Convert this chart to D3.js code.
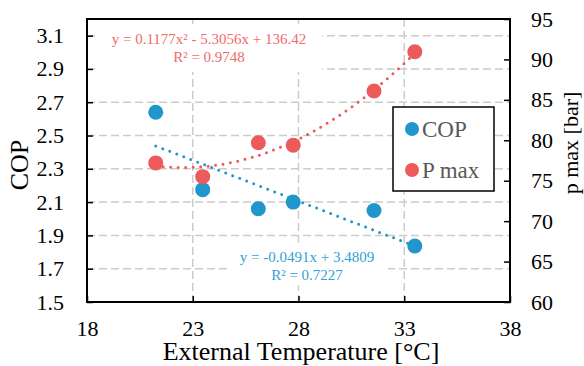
<!DOCTYPE html>
<html>
<head>
<meta charset="utf-8">
<script src="https://cdn.jsdelivr.net/npm/d3@7"></script>
<style>
  body { margin: 0; background: #fff; }
  #svg-container { width: 584px; height: 366px; }
  text { font-family: "Liberation Serif", "Times New Roman", serif; }
</style>
</head>
<body>
<div id="svg-container"></div>
<script>
//////////////  Data  //////////////
const temps = [21.25, 23.47, 26.1, 27.75, 31.57, 33.5];
const cop = [2.64, 2.175, 2.06, 2.1, 2.05, 1.836];
const pmax = [77.2, 75.5, 79.7, 79.4, 86.1, 90.95];

const xTicks = [18, 23, 28, 33, 38];
const copTicks = [1.5, 1.7, 1.9, 2.1, 2.3, 2.5, 2.7, 2.9, 3.1];
const pTicks = [60, 65, 70, 75, 80, 85, 90, 95];

// trendline coefficients as printed on the chart
const copFit = [3.4809, -0.0491]; // a + b x
const pFit = [136.42, -5.3056, 0.1177]; // a + b x + c x^2
const copLabel = ["y = -0.0491x + 3.4809", "R² = 0.7227"];
const pLabel = ["y = 0.1177x² - 5.3056x + 136.42", "R² = 0.9748"];

const blue = "#2196cd";
const red = "#ec5a5a";

//////////////  Init  //////////////
const width = 584;
const height = 366;
const margin = { top: 19, right: 74, bottom: 64, left: 87 };

const svg = d3.select("#svg-container").append("svg")
  .attr("width", width).attr("height", height);

const xScale = d3.scaleLinear().domain([18, 38]).range([margin.left, width - margin.right]);
const yCop = d3.scaleLinear().domain([1.5, 3.2]).range([height - margin.bottom, margin.top]);
const yP = d3.scaleLinear().domain([60, 95]).range([height - margin.bottom, margin.top]);

const x0 = margin.left, x1 = width - margin.right;
const y0 = height - margin.bottom, y1 = margin.top;

// grid
const grid = svg.append("g")
  .attr("stroke", "#cccccc").attr("stroke-width", 1.5).attr("stroke-dasharray", "8,4");
grid.selectAll(".gx").data(xTicks.slice(1, -1)).join("line")
  .attr("x1", (d) => xScale(d)).attr("x2", (d) => xScale(d))
  .attr("y1", y1).attr("y2", y0);
grid.selectAll(".gy").data(copTicks.slice(1)).join("line")
  .attr("x1", x0).attr("x2", x1)
  .attr("y1", (d) => yCop(d)).attr("y2", (d) => yCop(d));

// equation labels (white boxes over the grid)
function eqLabel(lines, cx, yTop, color, box) {
  svg.append("rect").attr("x", box[0]).attr("y", box[1])
    .attr("width", box[2]).attr("height", box[3]).attr("fill", "#fff");
  svg.append("g").selectAll("text").data(lines).join("text")
    .attr("x", cx).attr("y", (d, i) => yTop + i * 18)
    .attr("text-anchor", "middle").attr("font-size", 15).attr("fill", color)
    .text((d) => d);
}
eqLabel(pLabel, 209, 44, "#f06b6b", [95, 24, 227, 48]);
eqLabel(copLabel, 307, 262, "#33a2d6", [230, 243, 158, 42]);

// trendlines
const tExt = d3.extent(temps);
const samples = d3.range(tExt[0], tExt[1] + 0.001, (tExt[1] - tExt[0]) / 60);
const dotted = { "stroke-width": 3, "stroke-dasharray": "0,7.5", "stroke-linecap": "round", fill: "none" };

const copLine = svg.append("path")
  .datum(tExt)
  .attr("stroke", blue)
  .attr("d", d3.line().x((d) => xScale(d)).y((d) => yCop(copFit[0] + copFit[1] * d)));
const pLine = svg.append("path")
  .datum(samples)
  .attr("stroke", red)
  .attr("d", d3.line().x((d) => xScale(d)).y((d) => yP(pFit[0] + pFit[1] * d + pFit[2] * d * d)));
[copLine, pLine].forEach((p) => Object.entries(dotted).forEach(([k, v]) => p.attr(k, v)));

// points
svg.append("g").selectAll("circle").data(temps).join("circle")
  .attr("cx", (d) => xScale(d)).attr("cy", (d, i) => yCop(cop[i]))
  .attr("r", 7.5).attr("fill", blue);
svg.append("g").selectAll("circle").data(temps).join("circle")
  .attr("cx", (d) => xScale(d)).attr("cy", (d, i) => yP(pmax[i]))
  .attr("r", 7.5).attr("fill", red);

// axes (ticks inside)
const xAxis = d3.axisBottom(xScale).tickValues(xTicks).tickSizeInner(-6).tickSizeOuter(0).tickPadding(18);
const yAxisL = d3.axisLeft(yCop).tickValues(copTicks).tickFormat(d3.format(".1f")).tickSizeInner(-6).tickSizeOuter(0).tickPadding(23);
const yAxisR = d3.axisRight(yP).tickValues(pTicks).tickSizeInner(-6).tickSizeOuter(0).tickPadding(21);

function styleAxis(g) {
  g.select(".domain").remove();
  g.selectAll(".tick line").attr("stroke", "#000").attr("stroke-width", 1.5);
  g.selectAll(".tick text").attr("font-size", 22).attr("fill", "#000")
    .attr("font-family", "Liberation Serif, serif");
}
svg.append("g").attr("transform", `translate(0,${y0})`).call(xAxis).call(styleAxis);
svg.append("g").attr("transform", `translate(${x0},0)`).call(yAxisL).call(styleAxis);
svg.append("g").attr("transform", `translate(${x1},0)`).call(yAxisR).call(styleAxis);

// frame
svg.append("rect").attr("x", x0).attr("y", y1)
  .attr("width", x1 - x0).attr("height", y0 - y1)
  .attr("fill", "none").attr("stroke", "#000").attr("stroke-width", 2);

// legend
const legend = svg.append("g").attr("transform", "translate(393,107)");
legend.append("rect").attr("width", 101).attr("height", 84)
  .attr("fill", "#fff").attr("stroke", "#000").attr("stroke-width", 1.5);
const items = [["COP", blue], ["P max", red]];
const li = legend.selectAll(".item").data(items).join("g")
  .attr("transform", (d, i) => `translate(0,${22 + i * 41})`);
li.append("circle").attr("cx", 19).attr("cy", 0).attr("r", 7).attr("fill", (d) => d[1]);
li.append("text").attr("x", 29).attr("y", 7.5).attr("font-size", 23).attr("fill", "#595959")
  .text((d) => d[0]);

// axis titles
svg.append("text").attr("x", 301).attr("y", 360).attr("text-anchor", "middle")
  .attr("font-size", 26).text("External Temperature [°C]");
svg.append("text").attr("transform", "translate(28,165) rotate(-90)").attr("text-anchor", "middle")
  .attr("font-size", 26).text("COP");
svg.append("text").attr("transform", "translate(578,143) rotate(-90)").attr("text-anchor", "middle")
  .attr("font-size", 22).text("p max [bar]");
</script>
</body>
</html>
